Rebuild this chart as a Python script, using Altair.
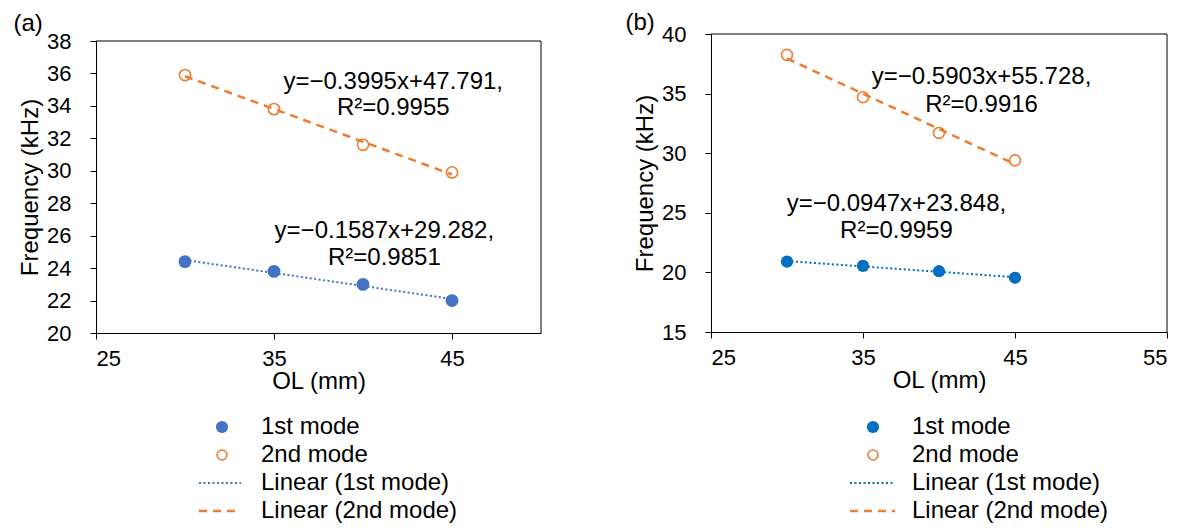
import altair as alt
import pandas as pd

FONT = "Liberation Sans"

# ---------------- data ----------------
ol = [30, 35, 40, 45]

a_mode1 = [24.4, 23.8, 23.0, 22.0]
a_mode2 = [35.9, 33.8, 31.6, 29.9]
b_mode1 = [20.9, 20.55, 20.1, 19.55]
b_mode2 = [38.25, 34.7, 31.7, 29.4]

legend_labels = ["1st mode", "2nd mode", "Linear (1st mode)", "Linear (2nd mode)"]

a_eq_text = ["y=−0.3995x+47.791,", "R²=0.9955", "y=−0.1587x+29.282,", "R²=0.9851"]
a_eq_x = [41.7, 41.7, 41.2, 41.2]
a_eq_y = [35.5, 33.84, 26.3, 24.64]

b_eq_text = ["y=−0.5903x+55.728,", "R²=0.9916", "y=−0.0947x+23.848,", "R²=0.9959"]
b_eq_x = [42.8, 42.8, 37.2, 37.2]
b_eq_y = [36.41, 34.07, 25.7, 23.5]

a_xticks = [25, 35, 45]
a_yticks = [20, 22, 24, 26, 28, 30, 32, 34, 36, 38]
b_xticks = [25, 35, 45, 55]
b_yticks = [15, 20, 25, 30, 35, 40]

ORANGE = "#ED7D31"
TXT = 24


def panel(m1, m2, eq_text, eq_x, eq_y, xdom, xticks, ydom, yticks,
          w, h, top_gap, blue, title, title_offset, title_dx,
          leg_rows, leg_line, leg_sym, leg_text,
          s_fill, s_open, ls_fill, ls_open):
    df = pd.DataFrame({"ol": ol * 2, "freq": m1 + m2,
                       "mode": ["1st mode"] * len(ol) + ["2nd mode"] * len(ol)})
    base = alt.Chart(df)
    gh = h + top_gap
    sc_x = alt.Scale(domain=xdom, nice=False, zero=False)
    sc_y = alt.Scale(domain=ydom, nice=False, zero=False, range=[gh, top_gap])
    ax_x = alt.Axis(values=xticks, title="OL (mm)", labelOverlap=False)
    ax_y = alt.Axis(values=yticks, title="Frequency (kHz)", labelOverlap=False)
    xenc = alt.X("ol:Q", scale=sc_x, axis=ax_x)
    yenc = alt.Y("freq:Q", scale=sc_y, axis=ax_y)

    p1 = base.transform_filter(alt.datum.mode == "1st mode").mark_circle(
        size=s_fill, color=blue, opacity=1).encode(x=xenc, y=yenc)
    p2 = base.transform_filter(alt.datum.mode == "2nd mode").mark_point(
        shape="circle", size=s_open, color=ORANGE, filled=False, strokeWidth=1.6,
        opacity=1).encode(x=xenc, y=yenc)
    l1 = base.transform_filter(alt.datum.mode == "1st mode").transform_regression(
        "ol", "freq", extent=[30, 45]).mark_line(
        color=blue, strokeDash=[2, 2.5], strokeWidth=2).encode(x=xenc, y=yenc)
    l2 = base.transform_filter(alt.datum.mode == "2nd mode").transform_regression(
        "ol", "freq", extent=[30, 45]).mark_line(
        color=ORANGE, strokeDash=[8, 6], strokeWidth=2.5).encode(x=xenc, y=yenc)

    # frame: top and right edges of the plot area (same scales and axes)
    one = base.transform_aggregate(n="count()")
    top_edge = one.mark_rule(color="black", strokeWidth=1).encode(
        x=alt.XDatum(xdom[0], scale=sc_x, axis=ax_x), x2=alt.X2Datum(xdom[1]),
        y=alt.YDatum(ydom[1], scale=sc_y, axis=ax_y))
    right_edge = one.mark_rule(color="black", strokeWidth=1).encode(
        x=alt.XDatum(xdom[1], scale=sc_x, axis=ax_x),
        y=alt.YDatum(ydom[0], scale=sc_y, axis=ax_y), y2=alt.Y2Datum(ydom[1]))

    eq = pd.DataFrame({"t": eq_text, "ol": eq_x, "freq": eq_y})
    txt = alt.Chart(eq).mark_text(font=FONT, fontSize=TXT, color="black",
                                  align="center", baseline="middle").encode(
        x=xenc, y=yenc, text="t:N")

    data_layer = alt.layer(top_edge, right_edge, p1, p2, l1, l2, txt)

    leg = pd.DataFrame({"label": legend_labels})
    lb = alt.Chart(leg)
    ly = alt.Y("label:N", scale=alt.Scale(type="point", domain=legend_labels,
                                          range=leg_rows, padding=0), axis=None)
    g1 = lb.transform_filter(alt.datum.label == legend_labels[0]).mark_circle(
        size=ls_fill, color=blue, opacity=1).encode(x=alt.value(leg_sym), y=ly)
    g2 = lb.transform_filter(alt.datum.label == legend_labels[1]).mark_point(
        shape="circle", size=ls_open, color=ORANGE, filled=False, strokeWidth=1.6,
        opacity=1).encode(x=alt.value(leg_sym), y=ly)
    g3 = lb.transform_filter(alt.datum.label == legend_labels[2]).mark_rule(
        color=blue, strokeDash=[2, 2.5], strokeWidth=2).encode(
        x=alt.value(leg_line[0]), x2=alt.value(leg_line[1]), y=ly)
    g4 = lb.transform_filter(alt.datum.label == legend_labels[3]).mark_rule(
        color=ORANGE, strokeDash=[8, 6], strokeWidth=2.5).encode(
        x=alt.value(leg_line[0]), x2=alt.value(leg_line[1]), y=ly)
    gt = lb.mark_text(font=FONT, fontSize=TXT, color="black", align="left",
                      baseline="middle").encode(x=alt.value(leg_text), y=ly,
                                                text="label:N")
    legend_layer = alt.layer(g1, g2, g3, g4, gt)

    return alt.layer(data_layer, legend_layer).resolve_scale(y="independent").properties(
        width=w, height=gh,
        title=alt.TitleParams(title, anchor="start", fontSize=TXT, fontWeight="normal",
                              font=FONT, color="black", offset=title_offset,
                              dx=title_dx))


chart_a = panel(a_mode1, a_mode2, a_eq_text, a_eq_x, a_eq_y, [25, 50], a_xticks,
                [20, 38], a_yticks, 445, 292, 7, "#4472C4", "(a)", -6, -5,
                [393, 477], [103, 145], 126, 165, 165, 125, 150, 95)
chart_b = panel(b_mode1, b_mode2, b_eq_text, b_eq_x, b_eq_y, [25, 55], b_xticks,
                [15, 40], b_yticks, 456, 298, 0, "#0070C0", "(b)", -12, -8,
                [393, 477], [139, 184], 162, 201, 150, 120, 150, 100)

chart = alt.concat(chart_a, chart_b, columns=2, spacing=83, align="none").properties(
    padding={"left": 5, "top": 2, "right": 0, "bottom": 0}
).configure_view(stroke="transparent").configure_axis(
    grid=False, domainColor="black", domainWidth=1, tickColor="black",
    tickSize=6, tickWidth=1, labelFont=FONT, labelFontSize=22, labelColor="black",
    titleFont=FONT, titleFontSize=24, titleColor="black", titleFontWeight="normal"
).configure_axisX(labelPadding=9, titlePadding=0).configure_axisY(
    labelPadding=19, titlePadding=4)

chart.save("out.html", embed_options={"renderer": "svg", "actions": False})
